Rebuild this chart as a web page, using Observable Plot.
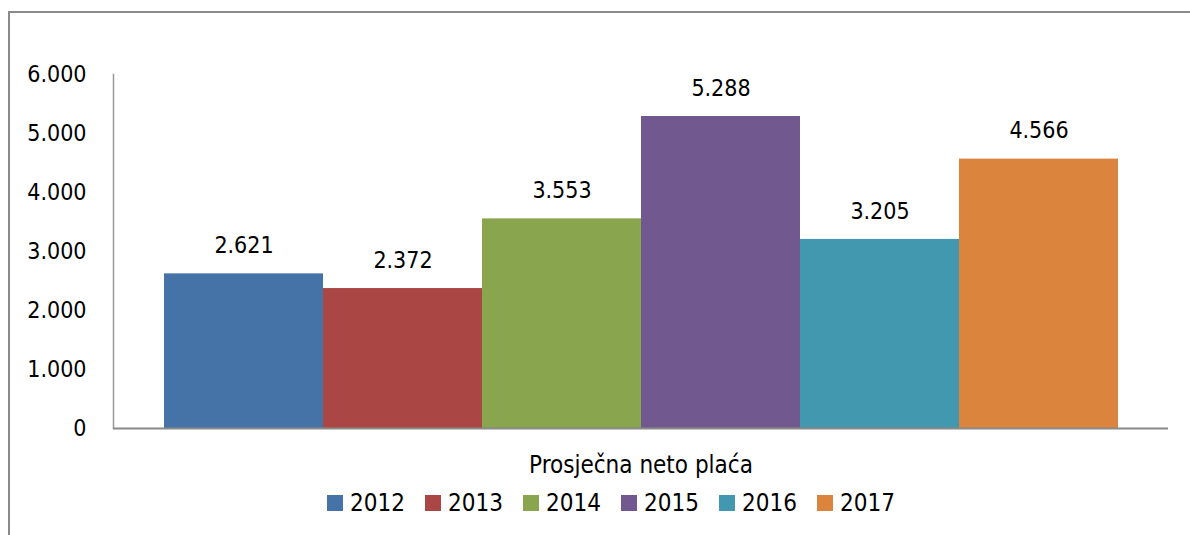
<!DOCTYPE html>
<html>
<head>
<meta charset="utf-8">
<script src="https://cdn.jsdelivr.net/npm/d3@7"></script>
<script src="https://cdn.jsdelivr.net/npm/@observablehq/plot@0.6"></script>
<style>
  html, body { margin: 0; padding: 0; background: #fff; }
  #wrap { position: relative; width: 1190px; height: 535px; overflow: hidden; background: #fff;
          font-family: "Liberation Sans Narrow", "DejaVu Sans Condensed", "Open Sans", sans-serif; }
  #frame { position: absolute; left: 8px; top: 11px; width: 1300px; height: 700px; border: 2px solid #8a8a8a; box-sizing: border-box; }
  #chart { position: absolute; left: 0; top: 0; }
  #legend { position: absolute; left: 327px; top: 489px; display: flex; font-size: 24px; color: #000; }
  .item { display: flex; align-items: center; width: 98px; }
  .sw { width: 16px; height: 16px; margin-right: 7px; }
</style>
</head>
<body>
<div id="wrap">
  <div id="frame"></div>
  <div id="chart"></div>
  <div id="legend"></div>
</div>
<script>
const years = ["2012", "2013", "2014", "2015", "2016", "2017"];
const values = [2621, 2372, 3553, 5288, 3205, 4566];
const colors = ["#4572A7", "#AA4643", "#89A54E", "#71588F", "#4198AF", "#DB843D"];
const yTicks = [0, 1000, 2000, 3000, 4000, 5000, 6000];
const categoryLabel = "Prosječna neto plaća";

const data = years.map((y, i) => ({year: y, value: values[i]}));
const fmt = d3.formatLocale({decimal: ",", thousands: ".", grouping: [3], currency: ["", ""]}).format(",d");
const font = '"Liberation Sans Narrow", "DejaVu Sans Condensed", "Open Sans", sans-serif';

const chart = Plot.plot({
  width: 1190,
  height: 485,
  marginLeft: 113,
  marginRight: 22,
  marginTop: 74,
  marginBottom: 57,
  style: {fontFamily: font, fontSize: "23px", color: "#000", background: "transparent"},
  x: {domain: years, paddingInner: 0, paddingOuter: 0.302, axis: null},
  y: {domain: [0, 6000], axis: null},
  color: {domain: years, range: colors},
  marks: [
    Plot.barY(data, {x: "year", y: "value", fill: "year"}),
    Plot.frame({anchor: "left", stroke: "#999", strokeWidth: 1.5}),
    Plot.ruleY([0], {stroke: "#8a8a8a", strokeWidth: 2}),
    Plot.axisY({ticks: yTicks, tickSize: 0, tickPadding: 27, tickFormat: fmt, label: null, fontSize: 23}),
    Plot.text(data, {x: "year", y: "value", text: d => fmt(d.value), dy: -28, lineAnchor: "middle", fontSize: 23, fill: "#000"}),
    Plot.text([categoryLabel], {frameAnchor: "bottom", dy: 37, lineAnchor: "middle", fontSize: 24, fill: "#000"})
  ]
});
document.getElementById("chart").appendChild(chart);

const legend = document.getElementById("legend");
years.forEach((y, i) => {
  const it = document.createElement("div");
  it.className = "item";
  const sw = document.createElement("div");
  sw.className = "sw";
  sw.style.background = colors[i];
  const t = document.createElement("span");
  t.textContent = y;
  it.appendChild(sw);
  it.appendChild(t);
  legend.appendChild(it);
});
</script>
</body>
</html>
